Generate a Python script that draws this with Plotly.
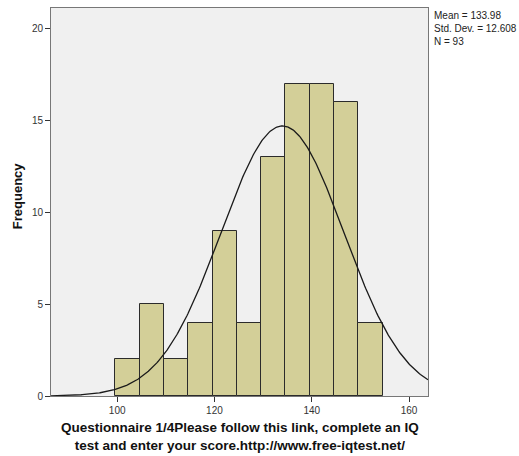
import numpy as np
import plotly.graph_objects as go

bin_start = 99.6
bin_width = 5
counts = [2, 5, 2, 4, 9, 4, 13, 17, 17, 16, 4]
mean_v = 133.98
sd_v = 12.608
n_v = 93
x_ticks = [100, 120, 140, 160]
y_ticks = [0, 5, 10, 15, 20]
x_title_lines = ['Questionnaire 1/4Please follow this link, complete an IQ',
                 'test and enter your score.http://www.free-iqtest.net/']
y_title = 'Frequency'
stats_text = 'Mean = 133.98<br>Std. Dev. = 12.608<br>N = 93'

centers = [bin_start + bin_width * (i + 0.5) for i in range(len(counts))]

xr = [86.4, 163.9]
xs = np.linspace(xr[0], xr[1], 400)
ys = n_v * bin_width / (sd_v * np.sqrt(2 * np.pi)) * np.exp(-0.5 * ((xs - mean_v) / sd_v) ** 2)

fig = go.Figure()
fig.add_trace(go.Bar(x=centers, y=counts, width=bin_width,
                     marker=dict(color='#D3CF98', line=dict(color='#2b2b2b', width=1)),
                     hoverinfo='skip'))
fig.add_trace(go.Scatter(x=xs, y=ys, mode='lines', line=dict(color='#1a1a1a', width=1.3),
                         hoverinfo='skip'))

annotations = [dict(xref='paper', yref='paper', x=1.01, y=1.0, xanchor='left', yanchor='top',
                    showarrow=False, align='left', text=stats_text,
                    font=dict(size=10, color='#222'))]
annotations.append(dict(xref='paper', yref='paper', x=0.5, y=0, xanchor='center',
                        yanchor='middle', yshift=-40, showarrow=False, align='center',
                        text='<b>' + '<br>'.join(x_title_lines) + '</b>',
                        font=dict(size=13.5, color='#111')))
annotations.append(dict(xref='paper', yref='paper', x=0, y=0.515, xanchor='center',
                        yanchor='middle', xshift=-34, textangle=-90, showarrow=False,
                        text='<b>' + y_title + '</b>', font=dict(size=13, color='#111')))

fig.update_layout(
    width=519, height=456,
    margin=dict(l=51, r=91, t=8, b=60, autoexpand=False),
    paper_bgcolor='white', plot_bgcolor='#F0F0F0',
    showlegend=False, bargap=0,
    font=dict(family='Arial, Liberation Sans, sans-serif', size=10, color='#333'),
    xaxis=dict(range=xr, tickvals=x_ticks, ticks='outside', ticklen=5, tickcolor='#333',
               showgrid=False, zeroline=False, showline=True, mirror=True, linecolor='#777',
               tickfont=dict(size=10, color='#333'), automargin=False),
    yaxis=dict(range=[0, 21.14], tickvals=y_ticks, ticks='outside', ticklen=5, tickcolor='#333',
               showgrid=False, zeroline=False, showline=True, mirror=True, linecolor='#777',
               tickfont=dict(size=10, color='#333'), automargin=False),
    annotations=annotations,
)

fig.write_html('out.html')
